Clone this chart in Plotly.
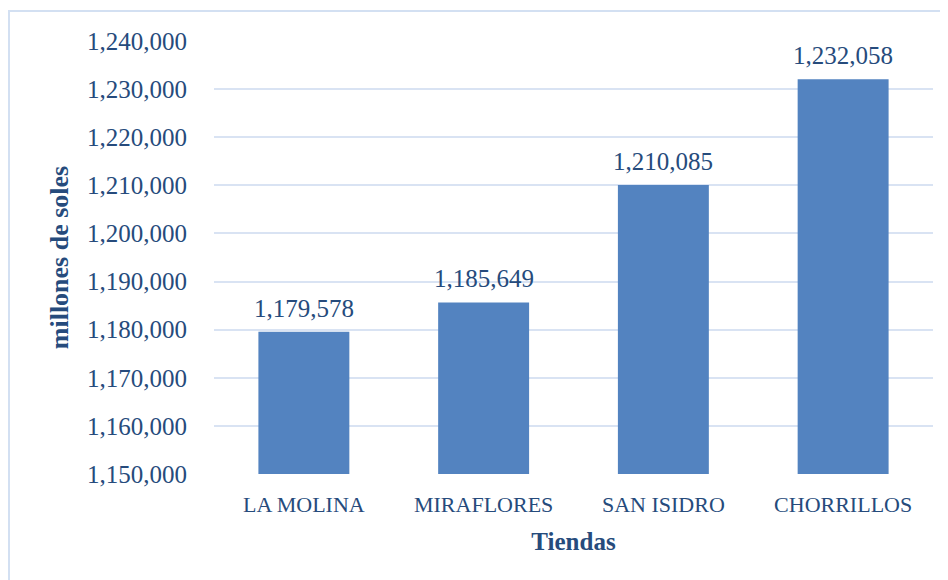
import plotly.graph_objects as go

tiendas = ["LA MOLINA", "MIRAFLORES", "SAN ISIDRO", "CHORRILLOS"]
ventas = [1179578, 1185649, 1210085, 1232058]
tick_vals = [1150000, 1160000, 1170000, 1180000, 1190000, 1200000, 1210000, 1220000, 1230000, 1240000]

TXT = "#264b7c"
FONT = "Liberation Serif"

fig = go.Figure()
fig.add_trace(go.Bar(
    x=tiendas, y=ventas,
    marker=dict(color="#5383c0", line=dict(width=0)),
    cliponaxis=False,
    hoverinfo="skip",
))

for t, v in zip(tiendas, ventas):
    fig.add_annotation(
        x=t, y=v, text=f"{v:,}", showarrow=False,
        yanchor="bottom", yshift=8,
        font=dict(family=FONT, size=25, color=TXT),
    )

fig.update_layout(
    width=948, height=580,
    margin=dict(l=206, r=23, t=33, b=114),
    paper_bgcolor="white", plot_bgcolor="white",
    bargap=0.494,
    showlegend=False,
    font=dict(family=FONT, color=TXT),
    xaxis=dict(
        showgrid=False, zeroline=False, showline=False,
        tickfont=dict(family=FONT, size=22, color=TXT),
        ticks="outside", ticklen=11, tickcolor="rgba(0,0,0,0)",
        title=dict(text="<b>Tiendas</b>", font=dict(family=FONT, size=25, color=TXT), standoff=16),
    ),
    yaxis=dict(
        range=[1150000, 1240000],
        tickvals=tick_vals,
        tickformat=",d",
        showgrid=True, gridcolor="#d9e3f3", gridwidth=1.5,
        zeroline=False, showline=False,
        tickfont=dict(family=FONT, size=25, color=TXT),
        ticklabelstandoff=26,
        title=dict(text="<b>millones de soles</b>", font=dict(family=FONT, size=26, color=TXT), standoff=10),
    ),
    shapes=[dict(
        type="rect", xref="paper", yref="paper",
        x0=(1 - 206) / 719, x1=1.2, y0=-0.5, y1=1 + 30 / 433,
        line=dict(color="#d3e0f2", width=2), fillcolor="rgba(0,0,0,0)", layer="below",
    )],
)

fig.write_html("out.html")
